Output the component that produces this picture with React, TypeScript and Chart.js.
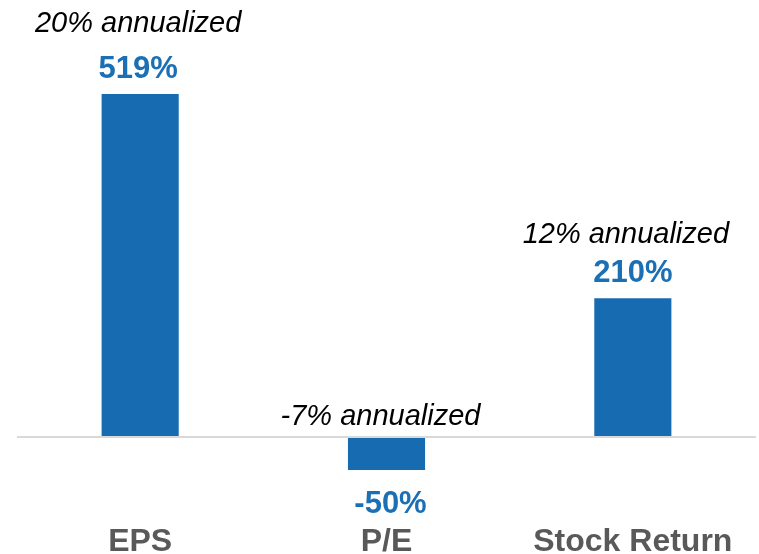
import React, { useEffect, useRef } from "react";
import { Chart, registerables } from "chart.js";

Chart.register(...registerables);

const categories = ["EPS", "P/E", "Stock Return"];
const values = [519, -50, 210];
const valueLabels = ["519%", "-50%", "210%"];
const annotations = ["20% annualized", "-7% annualized", "12% annualized"];

const BAR_COLOR = "#176bb0";
const VALUE_COLOR = "#1b6fb4";
const CAT_COLOR = "#595959";
const FONT = "'Liberation Sans', Arial, Helvetica, sans-serif";

// per-bar fine placement (pixels)
const annotationRise = [62, 12, 55];
const annotationShift = [-2, -6, -7];
const valueShift = [-2, 4, 0];

const labelPlugin = {
  id: "barLabels",
  afterDatasetsDraw(chart: any) {
    const ctx = chart.ctx;
    const meta = chart.getDatasetMeta(0);
    const zeroY = chart.scales.y.getPixelForValue(0);
    ctx.save();
    ctx.textAlign = "center";
    ctx.textBaseline = "alphabetic";
    meta.data.forEach((bar: any, i: number) => {
      const v = values[i];
      const x = bar.x;
      if (v >= 0) {
        ctx.font = `bold 31px ${FONT}`;
        ctx.fillStyle = VALUE_COLOR;
        ctx.fillText(valueLabels[i], x + valueShift[i], bar.y - 16);
        ctx.font = `italic 29px ${FONT}`;
        ctx.fillStyle = "#000000";
        ctx.fillText(annotations[i], x + annotationShift[i], bar.y - annotationRise[i]);
      } else {
        ctx.font = `bold 31px ${FONT}`;
        ctx.fillStyle = VALUE_COLOR;
        ctx.fillText(valueLabels[i], x + valueShift[i], bar.y + 43);
        ctx.font = `italic 29px ${FONT}`;
        ctx.fillStyle = "#000000";
        ctx.fillText(annotations[i], x + annotationShift[i], zeroY - annotationRise[i]);
      }
    });
    ctx.restore();
  },
};

export default function App() {
  const ref = useRef<HTMLCanvasElement | null>(null);

  useEffect(() => {
    if (!ref.current) return;
    const chart = new Chart(ref.current, {
      type: "bar",
      data: {
        labels: categories,
        datasets: [
          {
            data: values,
            backgroundColor: BAR_COLOR,
            borderWidth: 0,
            categoryPercentage: 1,
            barPercentage: 0.313,
          },
        ],
      },
      options: {
        responsive: false,
        animation: false,
        devicePixelRatio: 1,
        layout: { padding: { left: 17, right: 3, top: 0, bottom: 0 } },
        plugins: {
          legend: { display: false },
          tooltip: { enabled: false },
        },
        scales: {
          x: {
            grid: { display: false, drawTicks: false },
            border: { display: false },
            ticks: {
              color: CAT_COLOR,
              font: { family: FONT, size: 32, weight: "bold" },
              padding: 9,
              maxRotation: 0,
              autoSkip: false,
            },
            afterFit: (scale: any) => {
              scale.height = 40;
            },
          },
          y: {
            min: -116.5,
            max: 661,
            display: true,
            ticks: { display: false },
            border: { display: false },
            grid: {
              drawTicks: false,
              lineWidth: 2,
              color: (c: any) => (c.tick && c.tick.value === 0 ? "#d9d9d9" : "rgba(0,0,0,0)"),
            },
            afterFit: (scale: any) => {
              scale.width = 0;
            },
          },
        },
      },
      plugins: [labelPlugin],
    } as any);
    return () => chart.destroy();
  }, []);

  return (
    <div style={{ position: "fixed", left: 0, top: 0, width: 759, height: 554, background: "#ffffff" }}>
      <canvas ref={ref} width={759} height={554} style={{ width: 759, height: 554, display: "block" }} />
    </div>
  );
}
